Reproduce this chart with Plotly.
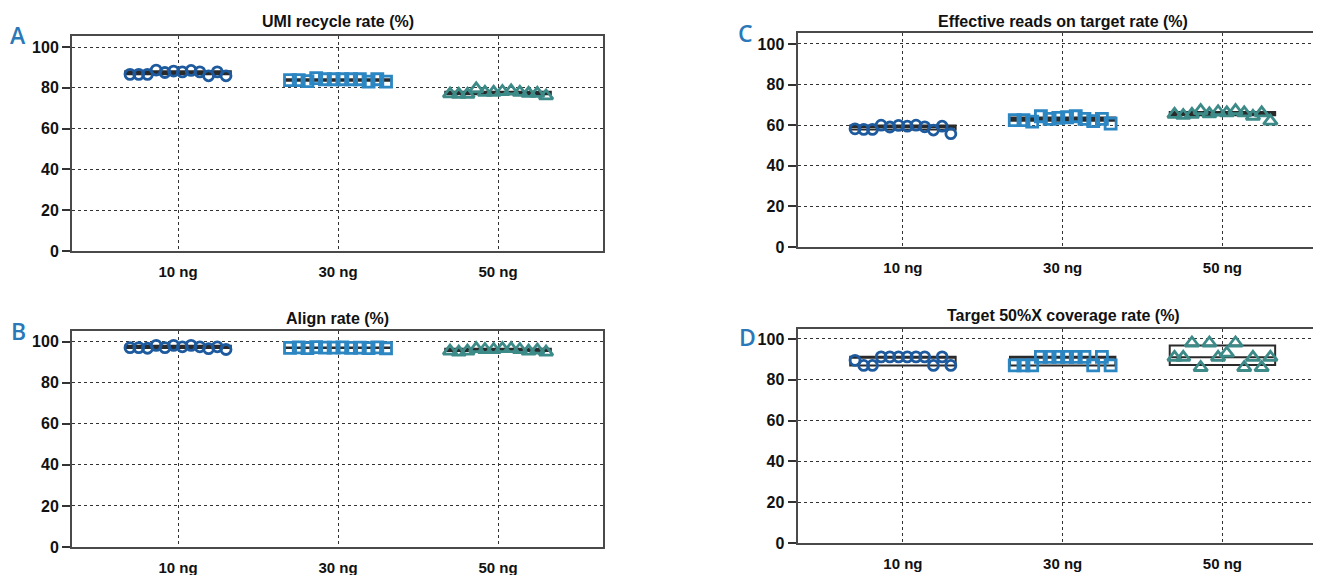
import numpy as np
import plotly.graph_objects as go

# ---------------- data ----------------
categories = ["10 ng", "30 ng", "50 ng"]
panel_letters = ["A", "B", "C", "D"]
panel_titles = ["UMI recycle rate (%)", "Align rate (%)",
                "Effective reads on target rate (%)", "Target 50%X coverage rate (%)"]
y_ticks = [0, 20, 40, 60, 80, 100]

umi_10 = [86.6, 86.6, 86.6, 88.7, 87.5, 88.2, 87.8, 88.5, 87.8, 85.9, 87.8, 85.9]
umi_30 = [83.8, 83.8, 83.3, 84.7, 84.2, 84.2, 84.2, 84.2, 84.2, 83.0, 84.2, 83.0]
umi_50 = [77.0, 76.8, 76.8, 79.5, 77.8, 77.8, 78.2, 78.5, 77.8, 77.3, 77.3, 76.0]

align_10 = [97.1, 97.1, 96.8, 98.2, 97.1, 98.2, 97.5, 98.2, 97.5, 96.6, 97.5, 96.2]
align_30 = [97.0, 97.2, 96.9, 97.3, 97.1, 97.1, 97.2, 97.0, 97.1, 96.9, 97.2, 96.8]
align_50 = [95.4, 94.9, 95.4, 96.6, 96.2, 96.2, 96.6, 96.6, 96.2, 95.4, 95.9, 94.9]

ontarget_10 = [58.2, 57.9, 57.9, 60.0, 59.1, 59.9, 59.5, 60.0, 59.2, 57.6, 59.5, 55.8]
ontarget_30 = [62.5, 62.5, 61.7, 64.4, 63.1, 63.6, 63.9, 64.4, 63.1, 62.0, 63.1, 60.8]
ontarget_50 = [65.3, 64.8, 65.3, 67.2, 65.6, 66.6, 66.1, 67.2, 66.1, 64.4, 66.1, 62.0]

cov_10 = [89.5, 87.0, 87.0, 91.2, 91.2, 91.2, 91.2, 91.2, 91.2, 87.0, 91.2, 87.0]
cov_30 = [87.0, 87.0, 87.0, 91.2, 91.2, 91.2, 91.2, 91.2, 91.2, 87.0, 91.2, 87.0]
cov_50 = [91.0, 91.0, 98.0, 86.0, 98.0, 91.0, 93.0, 98.0, 86.0, 91.0, 86.0, 91.0]

panel_values = [
    [umi_10, umi_30, umi_50],
    [align_10, align_30, align_50],
    [ontarget_10, ontarget_30, ontarget_50],
    [cov_10, cov_30, cov_50],
]

# ---------------- styles / layout ----------------
W, H = 1321, 575
OFF = 8  # page offset of the figure (default body margin)
group_colors = ["#1d5a9e", "#2b86c2", "#3d8b88"]
group_symbols = ["circle-open", "square-open", "triangle-up-open"]
group_sizes = [10, 11, 12]
letter_color = "#2a78b8"
FONT = "Liberation Sans, Arial, sans-serif"

# geometry in page pixels
geom = [
    dict(l=72, r=603, y0=251, top=36, xr=[-0.6625, 2.656], ty=22, lx=18, ly=35, tx=337.5),
    dict(l=72, r=603, y0=547, top=331, xr=[-0.6625, 2.656], ty=318, lx=18, ly=331, tx=337.5),
    dict(l=797.5, r=1329, y0=247, top=33.4, xr=[-0.66, 2.667], ty=21, lx=745, ly=33, tx=1063),
    dict(l=797.5, r=1329, y0=543, top=328.5, xr=[-0.66, 2.667], ty=315, lx=748, ly=337, tx=1063),
]
y_top_vals = [105.4, 105.2, 105.2, 105.1]


def px(v):
    return (v - OFF) / W


def py(v):
    return 1 - (v - OFF) / H


fig = go.Figure()
layout = dict(width=W, height=H, margin=dict(l=0, r=0, t=0, b=0),
              paper_bgcolor="white", plot_bgcolor="white", showlegend=False,
              annotations=[])

for p in range(4):
    g = geom[p]
    k = p + 1
    xa = "x" if k == 1 else f"x{k}"
    ya = "y" if k == 1 else f"y{k}"
    for gi, vals in enumerate(panel_values[p]):
        arr = np.array(vals)
        q1, med, q3 = np.percentile(arr, [25, 50, 75], method="weibull")
        fig.add_trace(go.Box(
            x=[gi], q1=[q1], median=[med], q3=[q3], lowerfence=[q1], upperfence=[q3],
            width=0.66, line=dict(color="#2a2a2a", width=2),
            fillcolor="rgba(0,0,0,0)", boxpoints=False, xaxis=xa, yaxis=ya,
            hoverinfo="skip"))
        offsets = np.linspace(-0.3, 0.3, len(vals))
        fig.add_trace(go.Scatter(
            x=gi + offsets, y=vals, mode="markers", xaxis=xa, yaxis=ya,
            marker=dict(symbol=group_symbols[gi], color=group_colors[gi],
                        size=group_sizes[gi], line=dict(width=2.8, color=group_colors[gi]))))

    xdom = [max(0.0, px(g["l"])), min(1.0, px(g["r"]))]
    ydom = [py(g["y0"]), py(g["top"])]
    layout["xaxis" if k == 1 else f"xaxis{k}"] = dict(
        domain=xdom, range=g["xr"], anchor=ya, tickmode="array", automargin=False,
        tickvals=[0, 1, 2], ticktext=categories, showgrid=True,
        gridcolor="#333333", griddash="dot", gridwidth=1.3, zeroline=False,
        showline=True, linecolor="#4a4a4a", linewidth=2, mirror=True,
        ticks="", ticklabelstandoff=6,
        tickfont=dict(family=FONT, size=15, color="#111111", weight="bold"))
    layout["yaxis" if k == 1 else f"yaxis{k}"] = dict(
        domain=ydom, range=[0, y_top_vals[p]], anchor=xa, tickmode="array",
        automargin=False,
        tickvals=y_ticks, showgrid=True, gridcolor="#333333", griddash="dot",
        gridwidth=1.3, zeroline=False, showline=True, linecolor="#4a4a4a",
        linewidth=2, mirror=(p < 2), ticks="outside", ticklen=8, tickwidth=1.5,
        tickcolor="#333333",
        tickfont=dict(family=FONT, size=16, color="#111111", weight="bold"))
    layout["annotations"].append(dict(
        text=panel_titles[p], xref="paper", yref="paper",
        x=px(g["tx"]), y=py(g["ty"]), xanchor="center", yanchor="middle",
        showarrow=False,
        font=dict(family=FONT, size=16, color="#111111", weight="bold")))
    layout["annotations"].append(dict(
        text=panel_letters[p], xref="paper", yref="paper",
        x=px(g["lx"]), y=py(g["ly"]), xanchor="center", yanchor="middle",
        showarrow=False,
        font=dict(family="Open Sans, sans-serif", size=23, color=letter_color, weight=600)))

fig.update_layout(**layout)
fig.write_html("out.html")
